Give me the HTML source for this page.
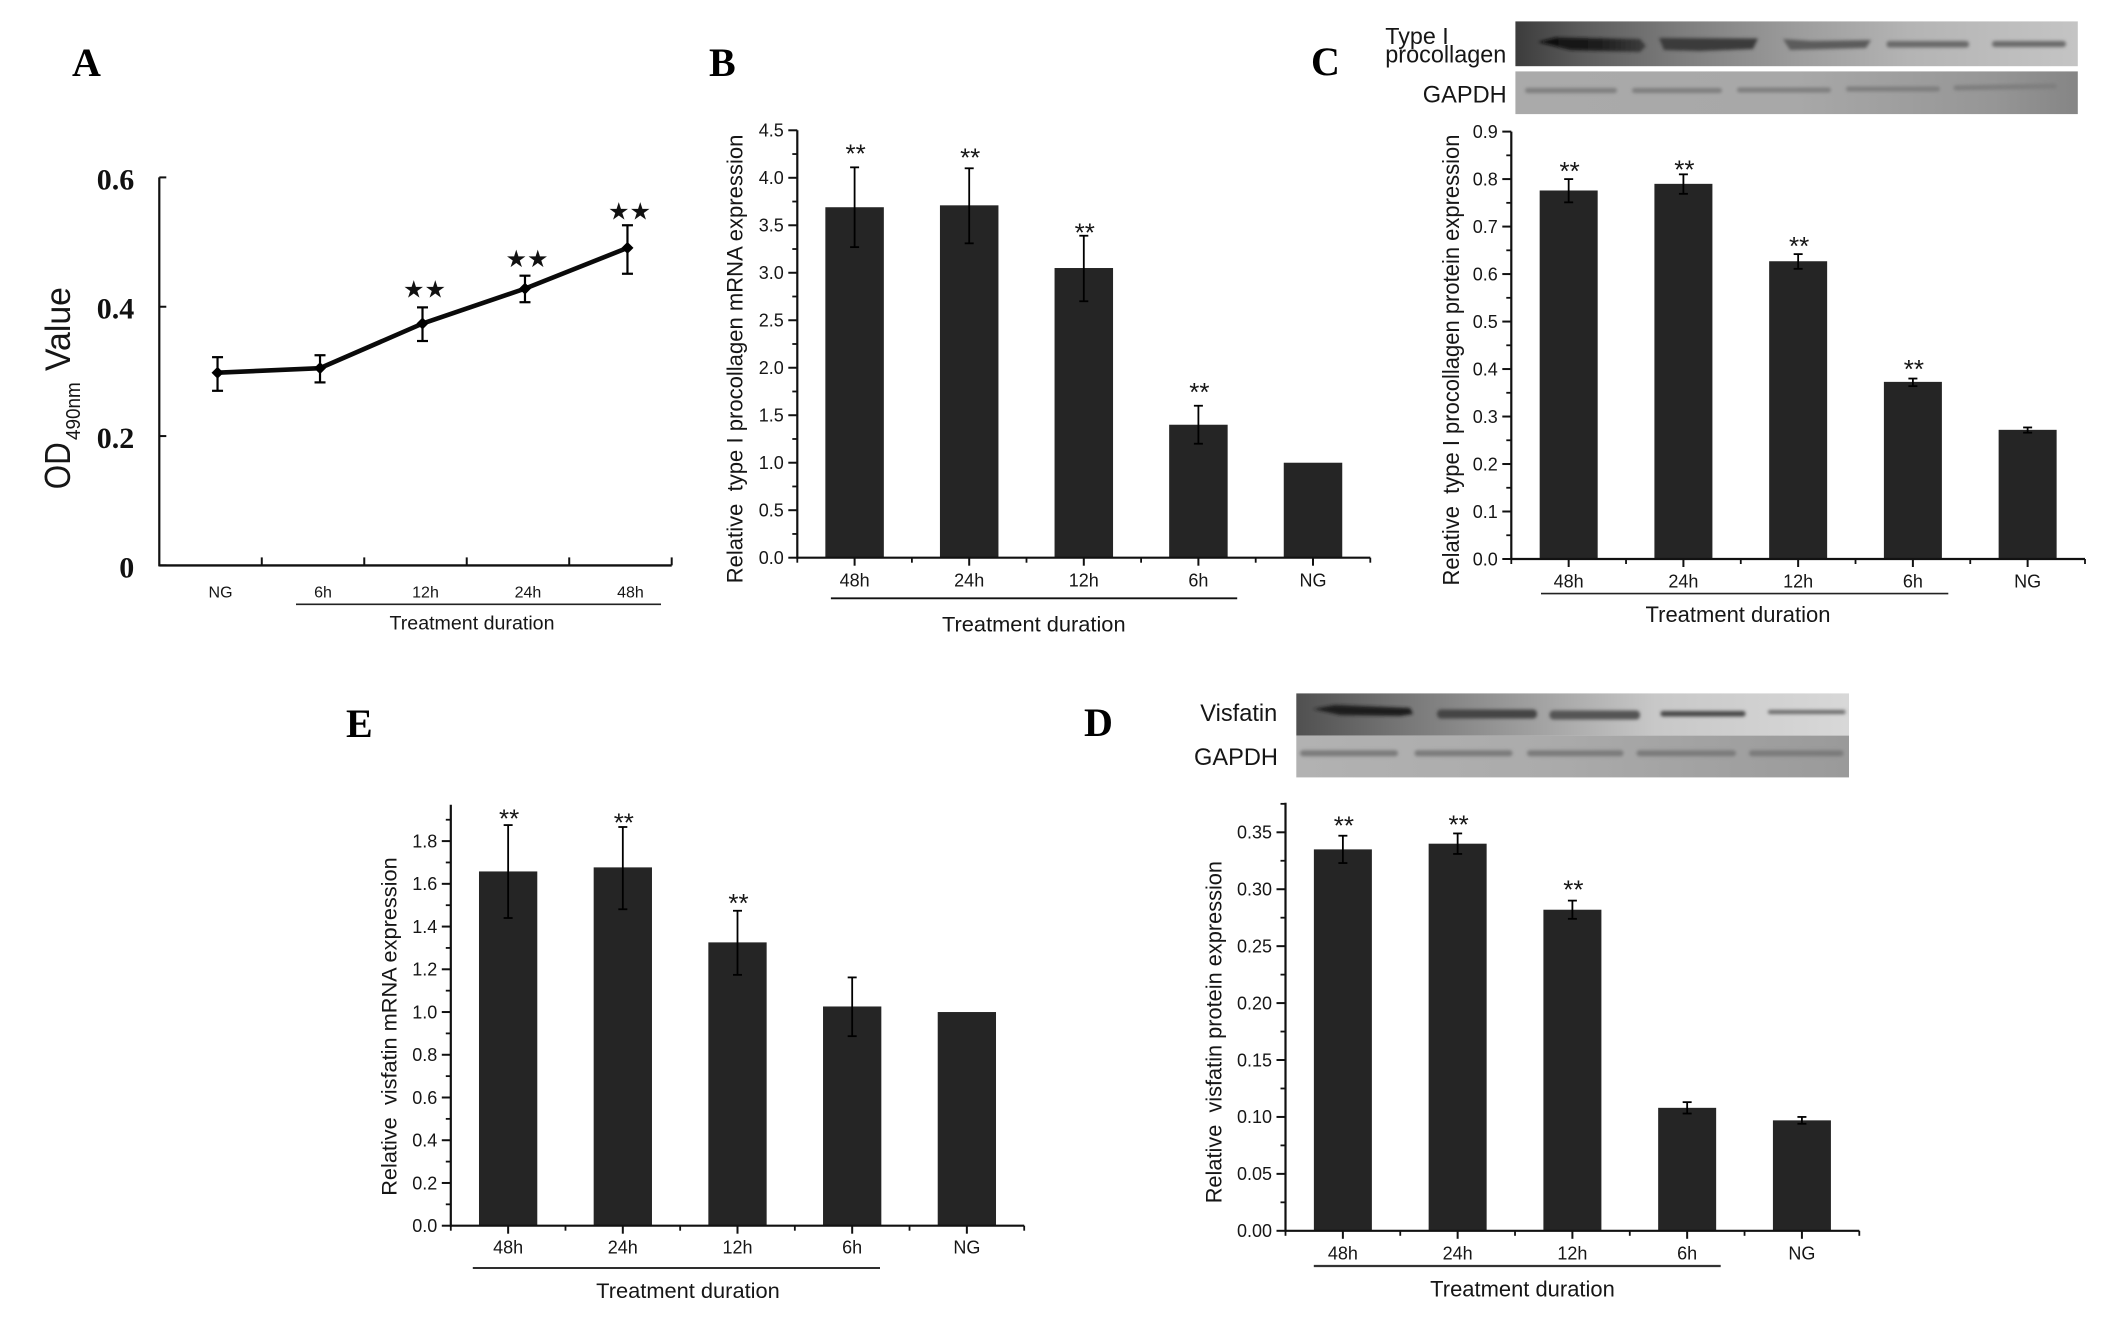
<!DOCTYPE html>
<html lang="en">
<head>
<meta charset="utf-8">
<title>Type I procollagen and visfatin expression panels</title>
<style>
html,body{margin:0;padding:0;background:#fff;width:2126px;height:1322px;overflow:hidden}
svg{display:block}
text{font-family:"Liberation Sans",sans-serif;fill:#161616;white-space:pre}
.letter{font-family:"Liberation Serif",serif;font-weight:bold;font-size:40px;fill:#000}
</style>
</head>
<body>
<svg id="figure" xmlns="http://www.w3.org/2000/svg" width="2126" height="1322" viewBox="0 0 2126 1322">
  <defs>
    <filter id="soft" x="-10%" y="-80%" width="120%" height="260%"><feGaussianBlur stdDeviation="1.6"/></filter>
    <linearGradient id="blotCTop"><stop offset="0" stop-color="#3c3c3c"/><stop offset=".12" stop-color="#5c5c5c"/><stop offset=".3" stop-color="#7e7e7e"/><stop offset=".5" stop-color="#9c9c9c"/><stop offset=".7" stop-color="#b4b4b4"/><stop offset="1" stop-color="#c4c4c4"/></linearGradient>
    <linearGradient id="blotCBase"><stop offset="0" stop-color="#aaa"/><stop offset=".5" stop-color="#a8a8a8"/><stop offset=".85" stop-color="#969696"/><stop offset="1" stop-color="#858585"/></linearGradient>
    <linearGradient id="blotDTop"><stop offset="0" stop-color="#505050"/><stop offset=".2" stop-color="#787878"/><stop offset=".45" stop-color="#a4a4a4"/><stop offset=".65" stop-color="#c8c8c8"/><stop offset="1" stop-color="#d8d8d8"/></linearGradient>
    <linearGradient id="blotDBase"><stop offset="0" stop-color="#b2b2b2"/><stop offset=".45" stop-color="#ababab"/><stop offset="1" stop-color="#9a9a9a"/></linearGradient>
    <linearGradient id="bandStrong"><stop offset="0" stop-color="#0c0c0c"/><stop offset=".55" stop-color="#1c1c1c"/><stop offset="1" stop-color="#3e3e3e"/></linearGradient>
  </defs>

  <text class="letter" x="72" y="76">A</text>
  <text class="letter" x="709" y="76">B</text>
  <text class="letter" x="1311" y="75">C</text>
  <text class="letter" x="346" y="737">E</text>
  <text class="letter" x="1084" y="736">D</text>

  <g>
    <text transform="translate(69.8,489.3) rotate(-90)" font-size="36" textLength="47" lengthAdjust="spacingAndGlyphs">OD</text>
    <text transform="translate(80,440) rotate(-90)" font-size="20" textLength="57.7" lengthAdjust="spacingAndGlyphs">490nm</text>
    <text transform="translate(69.8,371) rotate(-90)" font-size="35" textLength="84" lengthAdjust="spacingAndGlyphs">Value</text>
  </g>
  <line x1="296" y1="604.3" x2="661" y2="604.3" stroke="#222" stroke-width="1.6"/>
  <text x="389.5" y="629.5" font-size="19.5" textLength="165" lengthAdjust="spacingAndGlyphs">Treatment duration</text>

  <text transform="translate(742.7,583.3) rotate(-90)" font-size="22.5" textLength="448.7" lengthAdjust="spacingAndGlyphs">Relative  type I procollagen mRNA expression</text>
  <line x1="830.9" y1="598.3" x2="1237.2" y2="598.3" stroke="#111" stroke-width="1.8"/>
  <text x="942" y="631.6" font-size="21.7" textLength="183.6" lengthAdjust="spacingAndGlyphs">Treatment duration</text>

  <text transform="translate(1458.8,585.5) rotate(-90)" font-size="23" textLength="451" lengthAdjust="spacingAndGlyphs">Relative  type I procollagen protein expression</text>
  <line x1="1541" y1="593.6" x2="1948.3" y2="593.6" stroke="#222" stroke-width="1.6"/>
  <text x="1645.5" y="621.8" font-size="21.8" textLength="185" lengthAdjust="spacingAndGlyphs">Treatment duration</text>

  <text transform="translate(396.5,1195.8) rotate(-90)" font-size="21.7" textLength="338.5" lengthAdjust="spacingAndGlyphs">Relative  visfatin mRNA expression</text>
  <line x1="472.8" y1="1268" x2="880" y2="1268" stroke="#111" stroke-width="1.8"/>
  <text x="596.2" y="1297.8" font-size="21.7" textLength="183.6" lengthAdjust="spacingAndGlyphs">Treatment duration</text>

  <text transform="translate(1221.5,1203.3) rotate(-90)" font-size="21.8" textLength="342.3" lengthAdjust="spacingAndGlyphs">Relative  visfatin protein expression</text>
  <line x1="1313.8" y1="1266" x2="1720.7" y2="1266" stroke="#333" stroke-width="2.2"/>
  <text x="1430.2" y="1296.3" font-size="21.8" textLength="184.6" lengthAdjust="spacingAndGlyphs">Treatment duration</text>

  <g>
    <rect x="1515.4" y="21.4" width="562.4" height="44.8" fill="url(#blotCTop)"/>
    <g filter="url(#soft)">
      <path d="M1538 42 L1556 37.5 L1640 39 L1646 46 L1640 52 L1570 50 Z" fill="url(#bandStrong)"/>
      <path d="M1659 38 L1758 38.5 L1753 49 L1700 51 L1664 50 Z" fill="#3a3a3a"/>
      <path d="M1783 39 L1812 41 L1871 40 L1866 48 L1790 50 Z" fill="#5c5c5c"/>
      <rect x="1886.5" y="41" width="82.5" height="6.5" rx="3" fill="#6a6a6a"/>
      <rect x="1992" y="41" width="74" height="6" rx="3" fill="#6a6a6a"/>
    </g>
    <rect x="1515.4" y="71.4" width="562.4" height="42.7" fill="url(#blotCBase)"/>
    <g filter="url(#soft)" fill="#7e7e7e">
      <rect x="1525" y="88" width="92" height="5" rx="2.5"/>
      <rect x="1632" y="88" width="90" height="5" rx="2.5"/>
      <rect x="1737" y="87.5" width="94" height="5" rx="2.5"/>
      <rect x="1846" y="86.5" width="94" height="5" rx="2.5"/>
      <rect x="1953.5" y="84.5" width="103.5" height="5" rx="2.5" transform="rotate(-1 2005 87)"/>
    </g>
    <text x="1385.3" y="44" font-size="23.3">Type I</text>
    <text x="1385.3" y="62.4" font-size="24" textLength="121" lengthAdjust="spacingAndGlyphs">procollagen</text>
    <text x="1422.8" y="102.6" font-size="23.6">GAPDH</text>
  </g>

  <g>
    <rect x="1296.3" y="693.4" width="552.7" height="42.2" fill="url(#blotDTop)"/>
    <g filter="url(#soft)">
      <path d="M1313 709 L1335 705 L1410 708 L1413 714 L1400 716 L1340 715 Z" fill="#1e1e1e"/>
      <rect x="1437" y="709.5" width="100" height="9" rx="4" fill="#444"/>
      <rect x="1549.5" y="710.5" width="90.5" height="9" rx="4" fill="#555"/>
      <rect x="1660.5" y="711" width="85" height="5.5" rx="2.5" fill="#484848"/>
      <rect x="1768" y="710" width="77.5" height="4" rx="2" fill="#6a6a6a"/>
    </g>
    <rect x="1296.3" y="735.6" width="552.7" height="41.8" fill="url(#blotDBase)"/>
    <g filter="url(#soft)" fill="#7a7a7a">
      <rect x="1300" y="750.3" width="98" height="6" rx="3"/>
      <rect x="1414.5" y="750.3" width="98" height="6" rx="3"/>
      <rect x="1527" y="750.3" width="96.5" height="6" rx="3"/>
      <rect x="1636.5" y="750.3" width="99.5" height="6" rx="3"/>
      <rect x="1749" y="750.3" width="94.6" height="6" rx="3"/>
    </g>
    <text x="1200.3" y="721" font-size="23.6">Visfatin</text>
    <text x="1194" y="765.2" font-size="23.6">GAPDH</text>
  </g>
</svg>

<script>
// Panel A: OD490nm line chart
const panelACategories = ['NG', '6h', '12h', '24h', '48h'];
const panelAValues = [0.298, 0.305, 0.374, 0.428, 0.491];
const panelAUpper = [0.322, 0.325, 0.399, 0.448, 0.526];
const panelALower = [0.270, 0.283, 0.347, 0.407, 0.451];
const panelAStarLevels = [null, null, 0.427, 0.474, 0.547];
const panelATickLabels = ['0', '0.2', '0.4', '0.6'];

// Bar panels share one category order
const barCategories = ['48h', '24h', '12h', '6h', 'NG'];

const panelBValues = [3.69, 3.71, 3.05, 1.40, 1.00];
const panelBUpper = [4.11, 4.10, 3.39, 1.60, null];
const panelBLower = [3.27, 3.31, 2.70, 1.20, null];
const panelBStarLevels = [4.29, 4.25, 3.46, 1.78, null];
const panelBTickLabels = ['0.0', '0.5', '1.0', '1.5', '2.0', '2.5', '3.0', '3.5', '4.0', '4.5'];

const panelCValues = [0.776, 0.790, 0.627, 0.373, 0.272];
const panelCUpper = [0.800, 0.810, 0.642, 0.380, 0.277];
const panelCLower = [0.751, 0.769, 0.611, 0.364, 0.266];
const panelCStarLevels = [0.824, 0.828, 0.666, 0.407, null];
const panelCTickLabels = ['0.0', '0.1', '0.2', '0.3', '0.4', '0.5', '0.6', '0.7', '0.8', '0.9'];

const panelEValues = [1.658, 1.677, 1.326, 1.026, 1.00];
const panelEUpper = [1.875, 1.866, 1.474, 1.162, null];
const panelELower = [1.440, 1.481, 1.174, 0.887, null];
const panelEStarLevels = [1.923, 1.904, 1.526, null, null];
const panelETickLabels = ['0.0', '0.2', '0.4', '0.6', '0.8', '1.0', '1.2', '1.4', '1.6', '1.8'];

const panelDValues = [0.335, 0.340, 0.282, 0.108, 0.097];
const panelDUpper = [0.347, 0.349, 0.290, 0.113, 0.100];
const panelDLower = [0.323, 0.331, 0.274, 0.103, 0.094];
const panelDStarLevels = [0.359, 0.360, 0.303, null, null];
const panelDTickLabels = ['0.00', '0.05', '0.10', '0.15', '0.20', '0.25', '0.30', '0.35'];

const SVG_NS = 'http://www.w3.org/2000/svg';
const figure = document.getElementById('figure');

function make(tag, parent, attrs, text) {
  const node = document.createElementNS(SVG_NS, tag);
  for (const key in attrs) node.setAttribute(key, attrs[key]);
  if (text !== undefined) node.textContent = text;
  parent.appendChild(node);
  return node;
}

function drawYAxis(g, cfg, yScale, labels, labelStyle) {
  const axis = make('line', g, {x1: cfg.x0, y1: yScale(cfg.yMax), x2: cfg.x0, y2: yScale(0) + 1, stroke: '#111', 'stroke-width': 2.2});
  
  
  labels.forEach(function (label) {
    const v = Number(label);
    const tick = make('line', g, {x1: cfg.x0 + cfg.yTickDir * cfg.majorLen, y1: yScale(v), x2: cfg.x0, y2: yScale(v), stroke: '#111', 'stroke-width': 2});
    
    
    const t = make('text', g, Object.assign({x: cfg.x0 + cfg.labelGap, y: yScale(v) + cfg.labelDrop, 'text-anchor': 'end'}, labelStyle), label);
    
    
  });
  if (cfg.minorStep) {
    const count = Math.floor(cfg.yMax / cfg.minorStep + 1e-6);
    for (let i = 1; i <= count; i += 2) {
      const yMinor = yScale(i * cfg.minorStep);
      const minor = make('line', g, {x1: cfg.x0 - 5, y1: yMinor, x2: cfg.x0, y2: yMinor, stroke: '#111', 'stroke-width': 1.8});
      
      
    }
  }
}

function drawErrorBar(g, cx, top, bottom, capHalf, width) {
  const stem = make('line', g, {x1: cx, y1: top, x2: cx, y2: bottom, stroke: '#000', 'stroke-width': width});
  
  
  const capTop = make('line', g, {x1: cx - capHalf, y1: top, x2: cx + capHalf, y2: top, stroke: '#000', 'stroke-width': width});
  
  
  const capBottom = make('line', g, {x1: cx - capHalf, y1: bottom, x2: cx + capHalf, y2: bottom, stroke: '#000', 'stroke-width': width});
  
  
}

function drawBarPanel(cfg, categories, values, upper, lower, starLevels, tickLabels) {
  const g = make('g', figure, {});
  
  
  const band = (cfg.x1 - cfg.x0) / categories.length;
  const yScale = function (v) { return cfg.y0 - (cfg.y0 - cfg.yRefPx) * v / cfg.yRef; };
  const xScale = function (i) { return cfg.x0 + band * (i + 0.5); };

  values.forEach(function (v, i) {
    const bar = make('rect', g, {x: xScale(i) - cfg.barW / 2, y: yScale(v), width: cfg.barW, height: yScale(0) - yScale(v), fill: '#252525'});
    
    
    if (upper[i] !== null) {
      drawErrorBar(g, xScale(i), yScale(upper[i]), yScale(lower[i]), 4.5, 1.8);
    }
    if (starLevels[i] !== null) {
      const star = make('text', g, {x: xScale(i) + 1, y: yScale(starLevels[i]) + 12.5, 'text-anchor': 'middle', 'font-size': 26}, '**');
      
      
    }
    const label = make('text', g, {x: xScale(i), y: cfg.labelY, 'text-anchor': 'middle', 'font-size': 18}, categories[i]);
    
    
    const tickMid = make('line', g, {x1: xScale(i), y1: yScale(0), x2: xScale(i), y2: yScale(0) + 8, stroke: '#111', 'stroke-width': 2});
    
    
  });
  for (let i = 0; i <= categories.length; i++) {
    const tickEdge = make('line', g, {x1: cfg.x0 + band * i, y1: yScale(0), x2: cfg.x0 + band * i, y2: yScale(0) + 5, stroke: '#111', 'stroke-width': 1.8});
    
    
  }
  const xAxis = make('line', g, {x1: cfg.x0, y1: yScale(0), x2: cfg.x1, y2: yScale(0), stroke: '#111', 'stroke-width': 2.2});
  
  
  drawYAxis(g, Object.assign({yTickDir: -1, majorLen: 9, labelGap: -13.5, labelDrop: 6.3}, cfg), yScale, tickLabels, {'font-size': 18});
}

function drawLinePanel(cfg, categories, values, upper, lower, starLevels, tickLabels) {
  const g = make('g', figure, {});
  
  
  const band = (cfg.x1 - cfg.x0) / categories.length;
  const yScale = function (v) { return cfg.y0 - (cfg.y0 - cfg.yRefPx) * v / cfg.yRef; };
  const xScale = function (i) { return cfg.x0 + band * (i + 0.5) + cfg.pointShift; };

  const xAxis = make('line', g, {x1: cfg.x0, y1: yScale(0), x2: cfg.x1, y2: yScale(0), stroke: '#111', 'stroke-width': 2.4});
  
  
  for (let i = 1; i <= categories.length; i++) {
    const tick = make('line', g, {x1: cfg.x0 + band * i, y1: yScale(0), x2: cfg.x0 + band * i, y2: yScale(0) - 8, stroke: '#111', 'stroke-width': 2});
    
    
  }
  drawYAxis(g, Object.assign({yTickDir: 1, majorLen: 7, labelGap: -25, labelDrop: 12}, cfg), yScale, tickLabels, {'font-size': 30, 'font-weight': 'bold', style: 'font-family:"Liberation Serif",serif;fill:#111'});

  const pts = values.map(function (v, i) { return xScale(i) + ',' + yScale(v); }).join(' ');
  const line = make('polyline', g, {points: pts, fill: 'none', stroke: '#0a0a0a', 'stroke-width': 4.6, 'stroke-linejoin': 'round'});
  
  

  values.forEach(function (v, i) {
    drawErrorBar(g, xScale(i), yScale(upper[i]), yScale(lower[i]), 5.5, 2.2);
    const cx = xScale(i);
    const cy = yScale(v);
    const marker = make('polygon', g, {points: (cx - 6) + ',' + cy + ' ' + cx + ',' + (cy - 6) + ' ' + (cx + 6) + ',' + cy + ' ' + cx + ',' + (cy + 6), fill: '#000'});
    
    
    if (starLevels[i] !== null) {
      const star = make('text', g, {x: cx + 2, y: yScale(starLevels[i]) + 8, 'text-anchor': 'middle', 'font-size': 24, 'letter-spacing': 0, style: 'font-family:"DejaVu Sans",sans-serif;fill:#111'}, '★★');
      
      
    }
    const label = make('text', g, {x: cx + 3, y: cfg.labelY, 'text-anchor': 'middle', 'font-size': 16}, categories[i]);
    
    
  });
}

drawLinePanel({name: 'panel-a-line-chart', x0: 159.3, x1: 671.7, y0: 565.4, yRef: 0.6, yRefPx: 177.4, yMax: 0.6, minorStep: 0, pointShift: 7, labelY: 597.4},
  panelACategories, panelAValues, panelAUpper, panelALower, panelAStarLevels, panelATickLabels);

drawBarPanel({name: 'panel-b-bar-chart', x0: 797.3, x1: 1370.3, y0: 557.7, yRef: 4.5, yRefPx: 130.3, yMax: 4.5, minorStep: 0.25, barW: 58.5, labelY: 586.3},
  barCategories, panelBValues, panelBUpper, panelBLower, panelBStarLevels, panelBTickLabels);

drawBarPanel({name: 'panel-c-bar-chart', x0: 1511.3, x1: 2085, y0: 559, yRef: 0.9, yRefPx: 131.6, yMax: 0.9, minorStep: 0.05, barW: 58, labelY: 587.6},
  barCategories, panelCValues, panelCUpper, panelCLower, panelCStarLevels, panelCTickLabels);

drawBarPanel({name: 'panel-e-bar-chart', x0: 450.8, x1: 1024.2, y0: 1225.7, yRef: 1.8, yRefPx: 841.1, yMax: 1.97, minorStep: 0.1, barW: 58.3, labelY: 1253.5},
  barCategories, panelEValues, panelEUpper, panelELower, panelEStarLevels, panelETickLabels);

drawBarPanel({name: 'panel-d-bar-chart', x0: 1285.5, x1: 1859.3, y0: 1230.8, yRef: 0.35, yRefPx: 832.3, yMax: 0.376, minorStep: 0.025, barW: 58, labelY: 1259.4},
  barCategories, panelDValues, panelDUpper, panelDLower, panelDStarLevels, panelDTickLabels);
</script>
</body>
</html>
